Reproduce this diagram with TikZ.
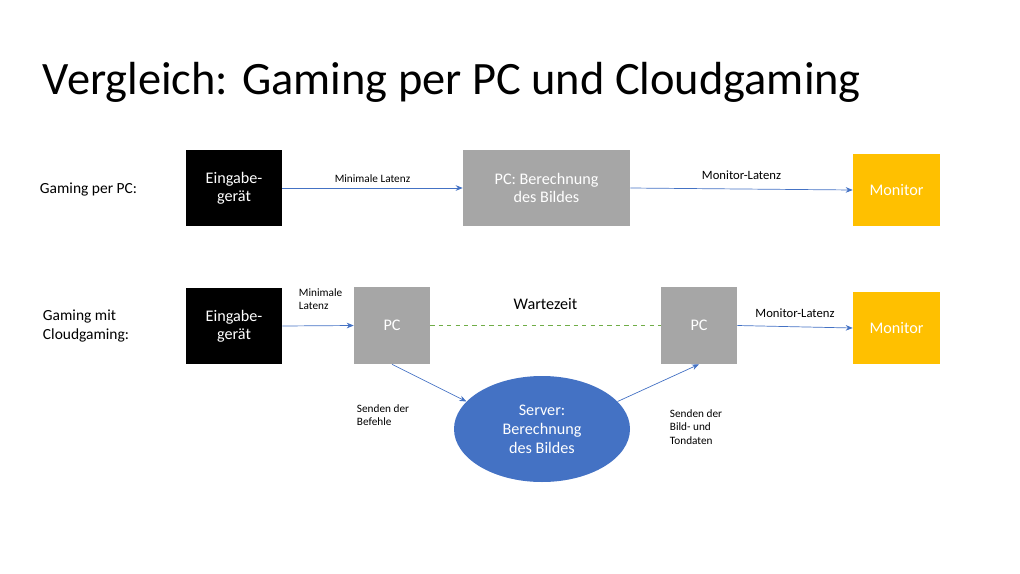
\documentclass[tikz,border=0pt]{standalone}
\usepackage{fontspec}
\setmainfont{Carlito}
\usetikzlibrary{arrows.meta,shapes.geometric}
\definecolor{grey}{HTML}{A6A6A6}
\definecolor{blu}{HTML}{4472C4}
\definecolor{yel}{HTML}{FFC000}
\definecolor{grn}{HTML}{70AD47}
\begin{document}
\begin{tikzpicture}[x=0.025cm,y=-0.025cm,
  box/.style={draw=none,minimum width=#1*0.025cm,inner sep=0pt,text=white,font=\fontsize{11.5}{13}\selectfont,align=center},
  arr/.style={draw=blu,line width=0.5pt,-{Stealth[length=5pt,width=4pt]}},
  lab/.style={font=\fontsize{8}{9.5}\selectfont,align=left},
  side/.style={font=\fontsize{11}{13.5}\selectfont,align=left,anchor=west}]
\useasboundingbox (0,0) rectangle (1020,573);
\node[anchor=west,font=\fontsize{33}{40}\selectfont] (title) at (38,82) {Vergleich: Gaming per PC und Cloudgaming};
\node[side] (g1) at (35,190) {Gaming per PC:};
\node[side] (g2) at (38,326) {Gaming mit\\Cloudgaming:};
\node[box=96,fill=black,minimum height=76*0.025cm] (e1) at (234,188) {Eingabe-\\gerät};
\node[box=167,fill=grey,minimum height=76*0.025cm] (pc1) at (546.5,188) {PC: Berechnung\\des Bildes};
\node[box=87,fill=yel,minimum height=72*0.025cm] (m1) at (896.5,190) {Monitor};
\node[box=96,fill=black,minimum height=76*0.025cm] (e2) at (234,326) {Eingabe-\\gerät};
\node[box=76,fill=grey,minimum height=77*0.025cm] (p2) at (392,325.5) {PC};
\node[box=76,fill=grey,minimum height=77*0.025cm] (p3) at (699,325.5) {PC};
\node[box=87,fill=yel,minimum height=72*0.025cm] (m2) at (896.5,328) {Monitor};
\node[ellipse,fill=blu,minimum width=176*0.025cm,minimum height=106*0.025cm,inner sep=0pt,text=white,font=\fontsize{11.5}{13.5}\selectfont,align=center] (srv) at (542,429) {Server:\\Berechnung\\des Bildes};
\draw[arr] (e1.east) -- node[lab,above,pos=0.5]{Minimale Latenz} (pc1.west);
\draw[arr] (pc1.east) -- node[lab,above=3pt,font=\fontsize{9}{10}\selectfont]{Monitor-Latenz} (m1.west);
\draw[arr] (e2.east) -- (p2.west);
\node[lab,anchor=west] (ml) at (294,299) {Minimale\\Latenz};
\draw[draw=grn,dashed,line width=0.5pt] (p2.east) -- node[above=8pt,font=\fontsize{11.5}{13}\selectfont]{Wartezeit} (p3.west);
\draw[arr] (p3.east) -- node[lab,above=3pt,font=\fontsize{9}{10}\selectfont]{Monitor-Latenz} (m2.west);
\draw[arr] (p2.south) -- (srv.160);
\node[lab,anchor=west] (sb) at (352,415) {Senden der\\Befehle};
\draw[arr] (srv.20) -- (p3.south);
\node[lab,anchor=west] (sbt) at (665,427) {Senden der\\Bild- und\\Tondaten};
\end{tikzpicture}
\end{document}
